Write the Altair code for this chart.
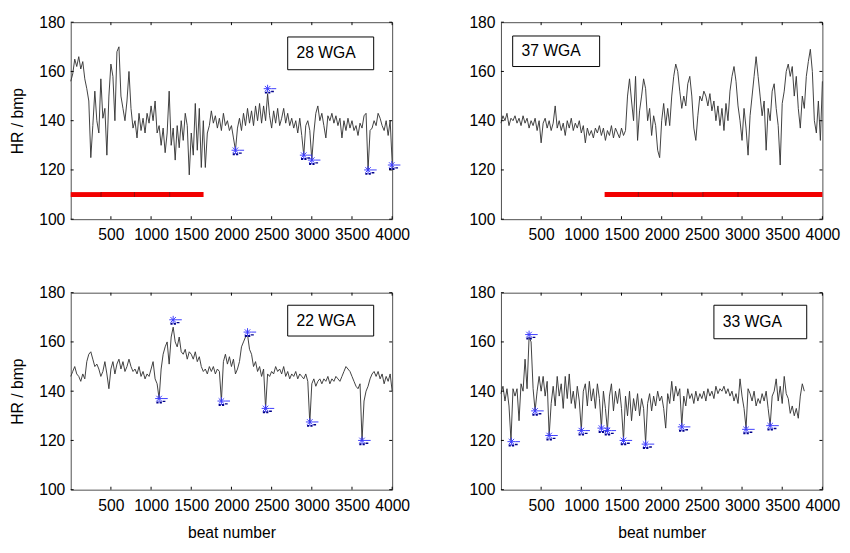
import altair as alt
import pandas as pd

STEP = 25  # beats between stored samples
X_TICKS = [500, 1000, 1500, 2000, 2500, 3000, 3500, 4000]
Y_TICKS = [100, 120, 140, 160, 180]

# ---- 28 WGA (top left) ----
hr_28 = [
    156, 159, 165, 162, 166, 161, 164, 157, 153, 148,
    125, 138, 152, 140, 135, 157, 141, 145, 126, 150,
    163, 158, 140, 168, 170, 150, 145, 140, 148, 160,
    145, 137, 140, 133, 143, 136, 141, 135, 143, 139,
    146, 140, 148, 135, 138, 130, 137, 127, 135, 152,
    130, 137, 124, 138, 129, 140, 132, 143, 138, 118,
    135, 126, 147, 128, 145, 121, 140, 121, 135, 138,
    144, 139, 142, 137, 141, 136, 143, 138, 140, 136,
    138, 133, 128, 137, 141, 136, 143, 138, 145, 139,
    144, 138, 146, 140, 147, 139, 146, 140, 151, 142,
    137, 144, 139, 145, 138, 141, 145, 139, 143, 138,
    141, 137, 140, 135, 141, 134, 126, 138, 140, 136,
    124, 135, 143, 146, 140, 143, 138, 133, 142, 140,
    143, 139, 142, 138, 141, 133, 140, 136, 141, 137,
    140, 136, 138, 134, 139, 137, 142, 143, 120, 136,
    137, 140, 138, 143, 141, 138, 136, 140, 134, 140,
    123,
]
mk_28_beat = [2050, 2450, 2900, 3000, 3700, 3995]
mk_28_hr = [128, 153, 126, 124, 120, 122]
bar_28 = [0, 377, 793, 1231, 1653]

# ---- 37 WGA (top right) ----
hr_37 = [
    139, 142, 140, 143, 138, 141, 140, 142, 139, 141,
    138, 142, 139, 141, 137, 140, 138, 141, 136, 140,
    131, 139, 141, 137, 140, 136, 139, 146, 137, 140,
    136, 139, 134, 140, 137, 141, 136, 139, 137, 140,
    135, 138, 131, 137, 134, 136, 133, 137, 135, 138,
    134, 137, 132, 136, 134, 138, 133, 137, 135, 133,
    137, 134, 136, 150, 157, 148, 140, 158, 132, 144,
    150, 157, 153, 140, 145, 134, 142, 138, 128, 125,
    140, 147, 138, 145, 138, 150, 158, 163, 160, 152,
    145, 150, 146, 155, 158, 150, 137, 132, 142, 150,
    148, 152, 150, 146, 151, 144, 148, 140, 146, 138,
    145, 136, 147, 140, 152, 158, 162, 156, 146, 140,
    132, 145, 137, 126, 142, 150, 158, 166, 158, 150,
    142, 148, 128, 145, 140, 152, 155, 145, 138, 122,
    147, 152, 160, 163, 158, 162, 150, 158, 145, 137,
    150, 145, 158, 164, 169, 160, 140, 135, 148, 132,
    156,
]
mk_37_beat = []
mk_37_hr = []
bar_37 = [1290, 1710, 2134, 2512, 2950, 4000]

# ---- 22 WGA (bottom left) ----
hr_22 = [
    146, 148, 150, 147, 146, 144, 147, 145, 152, 155,
    156, 153, 150, 151, 149, 146, 148, 152, 147, 141,
    149, 152, 147, 151, 153, 149, 152, 148, 150, 153,
    150, 148, 149, 147, 150, 146, 148, 145, 147, 146,
    149, 152, 145, 143, 137, 149, 155, 158, 160, 151,
    162, 166, 160, 158, 162, 156, 155, 157, 153, 156,
    155, 153, 156, 152, 154, 150, 148, 149, 147, 150,
    148, 150, 147, 149, 148, 136, 152, 155, 151, 154,
    150, 153, 147, 149, 152, 158, 160, 162, 163, 157,
    155, 150, 152, 148, 150, 146, 149, 133, 147, 146,
    148, 147, 150, 148, 149, 147, 150, 146, 148, 145,
    147, 146, 148, 145, 147, 146, 145, 147, 144, 127,
    143, 145, 142, 144, 145, 143, 145, 144, 146, 143,
    145, 144, 146, 145, 144, 146, 148, 150, 149, 148,
    146, 144, 142, 141, 143, 120, 136, 140, 142, 145,
    147, 148, 146, 148, 145, 147, 143, 146, 144, 147,
    140,
]
mk_22_beat = [1100, 1275, 1875, 2200, 2425, 2975, 3625]
mk_22_hr = [137, 169, 136, 164, 133, 127.5, 120]
bar_22 = []

# ---- 33 WGA (bottom right) ----
hr_33 = [
    139, 142, 136, 141, 134, 120, 141, 138, 141, 128,
    143, 140, 153, 141, 162, 160, 141, 132, 140, 146,
    140, 146, 138, 144, 122, 135, 142, 134, 146, 138,
    143, 133, 146, 137, 147, 135, 140, 133, 142, 136,
    124, 140, 143, 134, 144, 136, 141, 133, 143, 137,
    125, 140, 133, 124, 138, 143, 132, 140, 135, 141,
    133, 120, 138, 130, 140, 128, 137, 132, 139, 130,
    137, 133, 119, 135, 139, 132, 138, 134, 140, 136,
    138, 133, 125, 139, 135, 144, 136, 142, 138, 141,
    126, 138, 134, 141, 137, 139, 135, 140, 136, 139,
    137, 140, 136, 141, 138, 140, 137, 142, 139, 141,
    140, 142, 139, 141, 138, 140, 136, 139, 135, 145,
    138, 133, 125, 141, 139, 136, 140, 134, 137, 135,
    139, 136, 140, 133, 126, 138, 140, 145, 136, 142,
    135, 146, 139, 137, 131, 134, 130, 133, 129, 138,
    143, 140,
]
mk_33_beat = [130, 350, 425, 600, 1000, 1250, 1325, 1525, 1800, 2250, 3050, 3350]
mk_33_hr = [119.5, 163, 132, 122, 124, 125, 124, 120, 118.5, 125.5, 124.5, 126]
bar_33 = []

labels = ["28 WGA", "37 WGA", "22 WGA", "33 WGA"]
# label boxes in data units: x from, x to, hr from, hr to
boxes = [
    [2700, 3770, 160.7, 174.0],
    [146, 1228, 162.0, 174.4],
    [2700, 3770, 162.4, 174.9],
    [2650, 3805, 161.3, 174.9],
]
BAR_LEVEL = 110

W, H = 328, 201
FONT = "Liberation Sans"
xs = alt.Scale(domain=[0, 4000], nice=False, zero=False)
ys = alt.Scale(domain=[100, 180], nice=False, zero=False)

ASTER = "M-1,0H1M0,-1V1M-0.7,-0.7L0.7,0.7M-0.7,0.7L0.7,-0.7M1,0H2.2"
DOTS = "M-0.7,0.75h0.55v0.5h-0.55zM0.15,0.75h0.55v0.5h-0.55zM0.9,0.55h0.7v0.35h-0.7z"


def panel(hr, mk_beat, mk_hr, bars, label, box, xtitle, ytitle):
    x_axis = alt.Axis(values=X_TICKS, format="d", title=xtitle, labelFlush=False, labelOverlap=False)
    y_axis = alt.Axis(values=Y_TICKS, format="d", title=ytitle, labelOverlap=False)

    def X(f):
        return alt.X(f, scale=xs, axis=x_axis)

    def Y(f):
        return alt.Y(f, scale=ys, axis=y_axis)

    trace = pd.DataFrame({"beat": [i * STEP for i in range(len(hr))], "hr": hr})
    layers = [
        alt.Chart(trace).mark_line(color="#353535", strokeWidth=0.95).encode(x=X("beat:Q"), y=Y("hr:Q"))
    ]
    if len(bars) > 1:
        bdf = pd.DataFrame({"start": bars[:-1], "end": bars[1:], "level": [BAR_LEVEL] * (len(bars) - 1)})
        layers.append(
            alt.Chart(bdf).mark_rule(color="#f20000", strokeWidth=5, strokeCap="butt").encode(
                x=X("start:Q"), x2="end:Q", y=Y("level:Q"))
        )
        sdf = pd.DataFrame({"at": bars[1:-1], "level": [BAR_LEVEL] * (len(bars) - 2)})
        layers.append(
            alt.Chart(sdf).mark_tick(orient="vertical", size=5, thickness=1, color="#7a0000", opacity=0.8).encode(
                x=X("at:Q"), y=Y("level:Q"))
        )
    if mk_beat:
        mk = pd.DataFrame({"beat": mk_beat, "hr": mk_hr})
        layers.append(
            alt.Chart(mk).mark_point(shape=DOTS, size=64, filled=True, fill="#00008b", strokeWidth=0, opacity=1).encode(
                x=X("beat:Q"), y=Y("hr:Q"))
        )
        layers.append(
            alt.Chart(mk).mark_point(shape=ASTER, size=64, filled=False, stroke="#3b3bff", strokeWidth=1, opacity=1).encode(
                x=X("beat:Q"), y=Y("hr:Q"))
        )
    bx = pd.DataFrame({"x1": [box[0]], "x2": [box[1]], "y1": [box[2]], "y2": [box[3]],
                       "ym": [(box[2] + box[3]) / 2], "label": [label]})
    layers.append(
        alt.Chart(bx).mark_rect(fill="white", stroke="black", strokeWidth=1).encode(
            x=X("x1:Q"), x2="x2:Q", y=Y("y1:Q"), y2="y2:Q")
    )
    layers.append(
        alt.Chart(bx).mark_text(align="left", baseline="middle", dx=9, fontSize=16, font=FONT, color="black").encode(
            x=X("x1:Q"), y=Y("ym:Q"), text="label:N")
    )
    xt = pd.DataFrame({"t": X_TICKS})
    yt = pd.DataFrame({"t": Y_TICKS})
    layers += [
        alt.Chart(xt).mark_rule(color="black", strokeWidth=1).encode(
            x=X("t:Q"), y=alt.value(H), y2=alt.value(H - 3)),
        alt.Chart(xt).mark_rule(color="black", strokeWidth=1).encode(
            x=X("t:Q"), y=alt.value(0), y2=alt.value(3)),
        alt.Chart(yt).mark_rule(color="black", strokeWidth=1).encode(
            y=Y("t:Q"), x=alt.value(0), x2=alt.value(3)),
        alt.Chart(yt).mark_rule(color="black", strokeWidth=1).encode(
            y=Y("t:Q"), x=alt.value(W), x2=alt.value(W - 3)),
    ]
    return alt.layer(*layers).properties(width=W, height=H)


p1 = panel(hr_28, mk_28_beat, mk_28_hr, bar_28, labels[0], boxes[0], None, "HR / bmp")
p2 = panel(hr_37, mk_37_beat, mk_37_hr, bar_37, labels[1], boxes[1], None, None)
p3 = panel(hr_22, mk_22_beat, mk_22_hr, bar_22, labels[2], boxes[2], "beat number", "HR / bmp")
p4 = panel(hr_33, mk_33_beat, mk_33_hr, bar_33, labels[3], boxes[3], "beat number", None)

top = alt.hconcat(p1, p2, spacing=58)
bottom = alt.hconcat(p3, p4, spacing=58)
chart = (
    alt.vconcat(top, bottom, spacing=41)
    .properties(padding={"left": 0, "top": 0, "right": 1, "bottom": 0})
    .configure_view(stroke="#4d4d4d", strokeWidth=1)
    .configure_axis(domain=False, ticks=False, tickSize=0, grid=False,
                    labelFont=FONT, labelFontSize=16, labelColor="black",
                    titleFont=FONT, titleFontSize=16, titleFontWeight="normal", titleColor="black")
    .configure_axisX(labelPadding=8, titlePadding=12)
    .configure_axisY(labelPadding=6, titlePadding=14)
)

chart.save("out.html", embed_options={"renderer": "svg", "actions": False})
